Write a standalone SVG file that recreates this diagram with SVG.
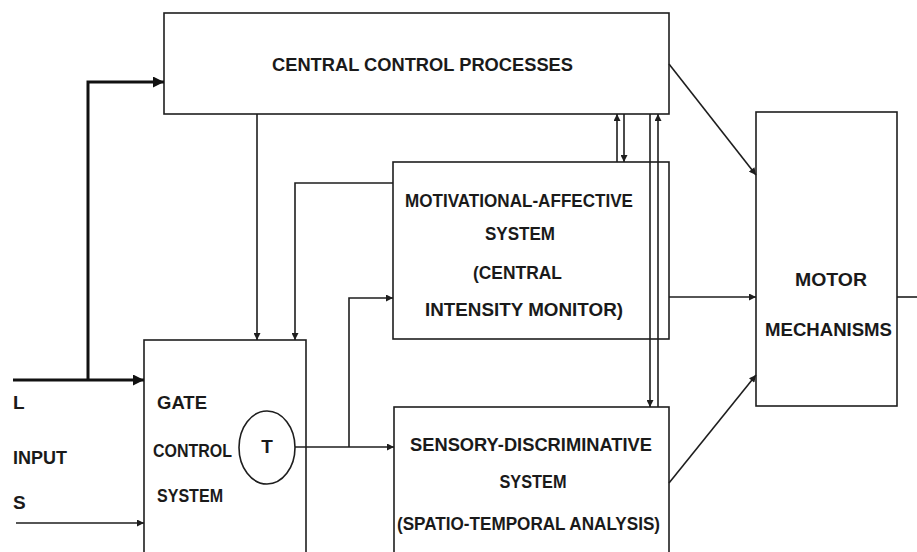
<svg xmlns="http://www.w3.org/2000/svg" width="917" height="552" viewBox="0 0 917 552">
<defs>
<style>
.box{fill:none;stroke:#1e1e1e;stroke-width:1.6}
.ln{fill:none;stroke:#1e1e1e;stroke-width:1.6}
.thick{fill:none;stroke:#111;stroke-width:3}
.t{font-family:"Liberation Sans",Arial,sans-serif;font-weight:bold;font-size:19px;fill:#1a1a1a}
.c{text-anchor:middle}
</style>
<marker id="ah" viewBox="0 0 10 10" refX="10" refY="5" markerWidth="8" markerHeight="7" markerUnits="userSpaceOnUse" orient="auto">
<path d="M0,0 L10,5 L0,10 z" fill="#1e1e1e"/>
</marker>
<marker id="ahT" viewBox="0 0 10 10" refX="10" refY="5" markerWidth="13" markerHeight="11" markerUnits="userSpaceOnUse" orient="auto">
<path d="M0,0 L10,5 L0,10 z" fill="#111"/>
</marker>
</defs>
<rect width="917" height="552" fill="#fff"/>

<g id="central">
<rect class="box" x="164" y="13" width="505" height="101"/>
<text class="t c" x="422.5" y="71" textLength="301" lengthAdjust="spacingAndGlyphs">CENTRAL CONTROL PROCESSES</text>
</g>

<g id="motivational">
<rect class="box" x="393" y="162" width="276" height="177"/>
<text class="t c" x="519" y="207" textLength="228" lengthAdjust="spacingAndGlyphs">MOTIVATIONAL-AFFECTIVE</text>
<text class="t c" x="520" y="240" textLength="70" lengthAdjust="spacingAndGlyphs">SYSTEM</text>
<text class="t c" x="517.5" y="279" textLength="89" lengthAdjust="spacingAndGlyphs">(CENTRAL</text>
<text class="t c" x="524" y="316" textLength="198" lengthAdjust="spacingAndGlyphs">INTENSITY MONITOR)</text>
</g>

<g id="sensory">
<rect class="box" x="394" y="407" width="275" height="160"/>
<text class="t c" x="531" y="451" textLength="242" lengthAdjust="spacingAndGlyphs">SENSORY-DISCRIMINATIVE</text>
<text class="t c" x="533" y="488" textLength="67" lengthAdjust="spacingAndGlyphs">SYSTEM</text>
<text class="t c" x="528.5" y="530" textLength="263" lengthAdjust="spacingAndGlyphs">(SPATIO-TEMPORAL ANALYSIS)</text>
</g>

<g id="motor">
<rect class="box" x="756" y="112" width="141" height="294"/>
<text class="t c" x="831" y="286" textLength="72" lengthAdjust="spacingAndGlyphs">MOTOR</text>
<text class="t c" x="828.5" y="336" textLength="127" lengthAdjust="spacingAndGlyphs">MECHANISMS</text>
</g>

<g id="gate">
<rect class="box" x="144" y="340" width="162" height="227"/>
<text class="t" x="157" y="409" textLength="50" lengthAdjust="spacingAndGlyphs">GATE</text>
<text class="t" x="153" y="457" textLength="79" lengthAdjust="spacingAndGlyphs">CONTROL</text>
<text class="t" x="157" y="502" textLength="66" lengthAdjust="spacingAndGlyphs">SYSTEM</text>
<ellipse class="box" cx="267" cy="447.5" rx="28" ry="36.5"/>
<text class="t c" x="267" y="453" font-size="16">T</text>
</g>

<g id="input-labels">
<text class="t" x="13" y="409">L</text>
<text class="t" x="13" y="464" textLength="54" lengthAdjust="spacingAndGlyphs">INPUT</text>
<text class="t" x="13" y="509">S</text>
</g>

<g id="connectors">
<line class="thick" x1="13" y1="380" x2="144" y2="380" marker-end="url(#ahT)"/>
<polyline class="thick" points="88,380 88,82 164,82" marker-end="url(#ahT)"/>
<line class="ln" x1="16" y1="523" x2="144" y2="523" marker-end="url(#ah)"/>
<line class="ln" x1="257" y1="114" x2="257" y2="340" marker-end="url(#ah)"/>
<polyline class="ln" points="393,183 295,183 295,340" marker-end="url(#ah)"/>
<line class="ln" x1="295" y1="447" x2="394" y2="447" marker-end="url(#ah)"/>
<polyline class="ln" points="349,447 349,298 393,298" marker-end="url(#ah)"/>
<line class="ln" x1="617" y1="162" x2="617" y2="114" marker-end="url(#ah)"/>
<line class="ln" x1="624" y1="114" x2="624" y2="162" marker-end="url(#ah)"/>
<line class="ln" x1="650" y1="114" x2="650" y2="407" marker-end="url(#ah)"/>
<line class="ln" x1="658" y1="407" x2="658" y2="114" marker-end="url(#ah)"/>
<line class="ln" x1="669" y1="64" x2="756" y2="175" marker-end="url(#ah)"/>
<line class="ln" x1="669" y1="297" x2="756" y2="297" marker-end="url(#ah)"/>
<line class="ln" x1="669" y1="483" x2="756" y2="375" marker-end="url(#ah)"/>
<line class="ln" x1="897" y1="297" x2="917" y2="297"/>
</g>
</svg>
